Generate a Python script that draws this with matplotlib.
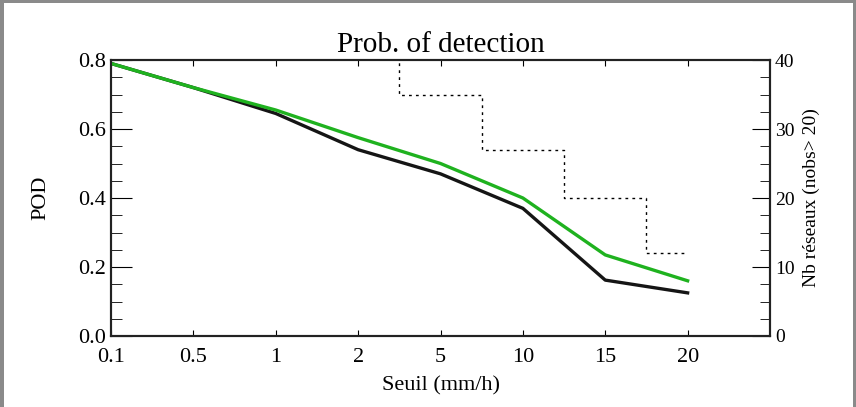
import numpy as np
import matplotlib
matplotlib.use("Agg")
import matplotlib.pyplot as plt
from matplotlib.patches import Rectangle
from matplotlib.ticker import MultipleLocator, FormatStrFormatter

# seuils (mm/h) et scores
seuils = ["0.1", "0.5", "1", "2", "5", "10", "15", "20"]
pod_vert = [0.79, 0.72, 0.655, 0.575, 0.50, 0.40, 0.235, 0.16]
pod_noir = [0.79, 0.72, 0.645, 0.54, 0.47, 0.37, 0.162, 0.125]
# nb de reseaux, les 4 premiers sortent du cadre (> 40)
nb_reseaux = [60, 55, 50, 45, 35, 27, 20, 12]

plt.rcParams["font.family"] = ["Liberation Serif", "DejaVu Serif"]

fig = plt.figure(figsize=(8.56, 4.07), dpi=100)
fig.patch.set_facecolor("#8a8a8a")
fig.patches.append(Rectangle((4/856, 0), 849/856, 404/407, transform=fig.transFigure,
                             facecolor="white", edgecolor="none", zorder=-10))

ax = fig.add_axes([111/856, 71/407, 659/856, 276/407])
ax.set_facecolor("white")
x = np.arange(len(seuils))

ax.plot(x, pod_noir, color="#151515", lw=2.4, zorder=3)
ax.plot(x, pod_vert, color="#1fb21f", lw=2.4, zorder=4)

ax.set_xlim(0, 8)
ax.set_ylim(0, 0.8)
ax.set_xticks(x)
ax.set_xticklabels(seuils)
ax.yaxis.set_major_locator(MultipleLocator(0.2))
ax.yaxis.set_minor_locator(MultipleLocator(0.05))
ax.yaxis.set_major_formatter(FormatStrFormatter("%.1f"))
ax.tick_params(axis="x", direction="in", length=4, top=True, labelsize=16, pad=9)
ax.tick_params(axis="y", which="major", direction="in", length=15, right=False, labelsize=16)
ax.tick_params(axis="y", which="minor", direction="in", length=8, right=False)
ax.set_xlabel("Seuil (mm/h)", fontsize=16, labelpad=6)
ax.set_ylabel("POD", fontsize=16, labelpad=20)
ax.set_title("Prob. of detection", fontsize=21, pad=6)

ax2 = ax.twinx()
ax2.step(x, nb_reseaux, where="mid", color="black", lw=1.0, ls=(0, (2, 3)))
ax2.set_ylim(0, 40)
ax2.yaxis.set_major_locator(MultipleLocator(10))
ax2.yaxis.set_minor_locator(MultipleLocator(2.5))
ax2.tick_params(axis="y", which="major", direction="in", length=13, labelsize=14)
ax2.tick_params(axis="y", which="minor", direction="in", length=7)
ax2.set_ylabel("Nb réseaux (nobs> 20)", fontsize=14, labelpad=6)

for a in (ax, ax2):
    for s in a.spines.values():
        s.set_linewidth(1.5)
        s.set_color("#222222")

fig.savefig("out.png", dpi=100, facecolor=fig.get_facecolor())
